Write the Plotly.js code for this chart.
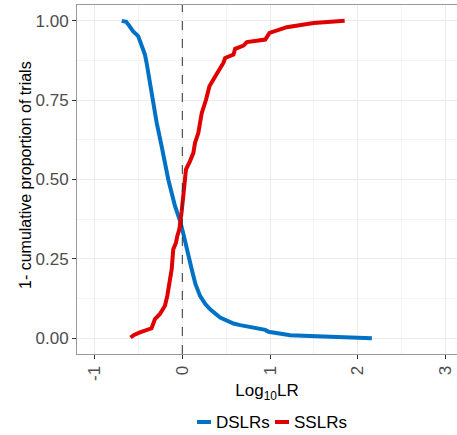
<!DOCTYPE html>
<html>
<head>
<meta charset="utf-8">
<script src="https://cdn.plot.ly/plotly-3.0.1.min.js"></script>
<style>html,body{margin:0;padding:0;background:#fff;}</style>
</head>
<body>
<div id="chart" style="width:457px;height:435px;"></div>
<script>
// DSLRs: 1 - cumulative proportion vs log10 LR
const dslrX = [-0.69, -0.64, -0.606, -0.56, -0.503, -0.464, -0.426, -0.407, -0.369, -0.331, -0.293, -0.236, -0.16, -0.083, -0.026, 0.011, 0.05, 0.107, 0.15, 0.202, 0.26, 0.317, 0.431, 0.583, 0.66, 0.774, 0.945, 0.983, 1.23, 1.61, 1.917, 2.16];
const dslrY = [1.0, 0.997, 0.985, 0.967, 0.952, 0.925, 0.894, 0.868, 0.805, 0.742, 0.68, 0.605, 0.5, 0.416, 0.37, 0.33, 0.28, 0.217, 0.17, 0.133, 0.108, 0.091, 0.065, 0.046, 0.041, 0.034, 0.026, 0.02, 0.0094, 0.005, 0.002, 0.0];
// SSLRs
const sslrX = [-0.59, -0.55, -0.483, -0.35, -0.312, -0.255, -0.198, -0.171, -0.14, -0.121, -0.103, -0.072, -0.057, -0.034, -0.007, 0.019, 0.042, 0.088, 0.126, 0.145, 0.183, 0.202, 0.222, 0.271, 0.309, 0.354, 0.411, 0.469, 0.488, 0.583, 0.602, 0.697, 0.736, 0.945, 0.994, 1.097, 1.19, 1.497, 1.85];
const sslrY = [0.002, 0.01, 0.018, 0.031, 0.06, 0.076, 0.102, 0.133, 0.186, 0.217, 0.28, 0.301, 0.322, 0.343, 0.40, 0.479, 0.532, 0.558, 0.584, 0.616, 0.647, 0.679, 0.71, 0.752, 0.794, 0.815, 0.841, 0.868, 0.883, 0.894, 0.912, 0.922, 0.933, 0.941, 0.962, 0.973, 0.98, 0.993, 1.0];
const seriesNames = ['DSLRs', 'SSLRs'];
const seriesColors = ['#0072C6', '#E00000'];
const xTicks = [-1, 0, 1, 2, 3];
const yTicks = [0, 0.25, 0.5, 0.75, 1.0];
const yTickText = ['0.00', '0.25', '0.50', '0.75', '1.00'];

const traces = [
  {x: dslrX, y: dslrY, name: seriesNames[0], type: 'scatter', mode: 'lines',
   line: {color: seriesColors[0], width: 4}, showlegend: false},
  {x: sslrX, y: sslrY, name: seriesNames[1], type: 'scatter', mode: 'lines',
   line: {color: seriesColors[1], width: 4}, showlegend: false}
];

// plot area geometry (pixels) for legend placement in paper coordinates
const L = 77, T = 5, W = 380, H = 349;
const px = v => (v - L) / W;
const py = v => (T + H - v) / H;
const legendY = py(422);
const legendItems = [
  {lineX0: 197, lineX1: 211, textX: 214},
  {lineX0: 275, lineX1: 289, textX: 292}
];

const shapes = [
  {type: 'line', xref: 'x', yref: 'paper', x0: 0, x1: 0, y0: 0, y1: 1,
   line: {color: '#333', width: 1, dash: 'dash'}}
];
const annotations = [
  {text: '1- cumulative proportion of trials', xref: 'paper', yref: 'paper',
   x: px(25), y: py(175), textangle: -90, showarrow: false,
   xanchor: 'center', yanchor: 'middle', font: {size: 16, color: '#000'}}
];
legendItems.forEach((it, i) => {
  shapes.push({type: 'line', xref: 'paper', yref: 'paper',
    x0: px(it.lineX0), x1: px(it.lineX1), y0: legendY, y1: legendY,
    line: {color: seriesColors[i], width: 4}});
  annotations.push({text: seriesNames[i], xref: 'paper', yref: 'paper',
    x: px(it.textX), y: legendY, xanchor: 'left', yanchor: 'middle',
    showarrow: false, font: {size: 17, color: '#000'}});
});

const layout = {
  width: 457, height: 435,
  margin: {l: L, r: 0, t: T, b: 81},
  paper_bgcolor: '#fff', plot_bgcolor: '#fff',
  font: {family: 'Liberation Sans, Arial, sans-serif', size: 17, color: '#000'},
  showlegend: false,
  xaxis: {
    range: [-1.2, 3.13], tickvals: xTicks, ticktext: xTicks.map(String),
    tickangle: -90, tickfont: {size: 17, color: '#4D4D4D'},
    ticks: 'outside', ticklen: 4, tickcolor: '#333', tickwidth: 1,
    showline: true, linecolor: '#999', linewidth: 1, mirror: true,
    showgrid: true, gridcolor: '#EBEBEB', gridwidth: 1, zeroline: false,
    minor: {dtick: 0.5, tick0: 0.5, showgrid: true, gridcolor: '#F4F4F4', gridwidth: 1},
    title: {text: 'Log<sub>10</sub>LR', font: {size: 17, color: '#000'}, standoff: 4},
    automargin: false
  },
  yaxis: {
    range: [-0.05, 1.05], tickvals: yTicks, ticktext: yTickText,
    tickfont: {size: 17, color: '#4D4D4D'},
    ticks: 'outside', ticklen: 4, tickcolor: '#333', tickwidth: 1,
    showline: true, linecolor: '#999', linewidth: 1,
    showgrid: true, gridcolor: '#EBEBEB', gridwidth: 1, zeroline: false,
    minor: {dtick: 0.25, tick0: 0.125, showgrid: true, gridcolor: '#F4F4F4', gridwidth: 1},
    automargin: false
  },
  shapes: shapes,
  annotations: annotations
};

Plotly.newPlot('chart', traces, layout, {displayModeBar: false, staticPlot: true});
</script>
</body>
</html>
